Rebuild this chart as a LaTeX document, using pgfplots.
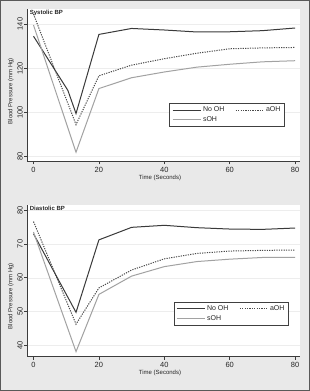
\documentclass[border=0pt]{standalone}
\usepackage{pgfplots}
\pgfplotsset{compat=1.18}
\usepackage{pgfplotstable}
\usepackage{fontspec}
\setmainfont{Liberation Sans}

\definecolor{noohcol}{HTML}{3A3A3A}
\definecolor{aohcol}{HTML}{4A4A4A}
\definecolor{sohcol}{HTML}{A2A2A2}
\definecolor{regioncol}{HTML}{E9E9E9}
\definecolor{axiscol}{HTML}{3C3C3C}

% Systolic blood pressure (mm Hg) over time (s)
\pgfplotstableread{
t  v
0    134.5
10.5 110
13   99.5
20   135.3
30   138
40   137.3
50   136.4
60   136.5
70   137
80   138.2
}\sysnooh
\pgfplotstableread{
t  v
0  144.5
13 94.5
20 116.6
30 121.4
40 124.3
50 126.8
60 128.8
70 129.2
80 129.4
}\sysaoh
\pgfplotstableread{
t  v
0  139.5
13 82
20 110.8
30 115.7
40 118.3
50 120.5
60 121.8
70 122.9
80 123.4
}\syssoh

% Diastolic blood pressure (mm Hg) over time (s)
\pgfplotstableread{
t  v
0  73
13 49.8
20 71.2
30 74.9
40 75.5
50 74.8
60 74.4
70 74.3
80 74.7
}\dianooh
\pgfplotstableread{
t  v
0  76.6
13 46.3
20 57
30 62.3
40 65.6
50 67.2
60 67.9
70 68.1
80 68.2
}\diaaoh
\pgfplotstableread{
t  v
0  73.5
13 38.2
20 55.1
30 60.5
40 63.3
50 64.8
60 65.5
70 66
80 66
}\diasoh

\newcommand{\labfont}{\fontsize{6bp}{7bp}\selectfont}

\pgfplotsset{
  bpstyle/.style={
    scale only axis,
    width=273bp,
    xmin=-1.99, xmax=81.5,
    xtick={0,20,40,60,80},
    axis x line*=bottom,
    axis y line*=left,
    axis line style={-, draw=axiscol, line width=0.8bp},
    tick style={draw=axiscol, line width=0.8bp},
    tick align=outside,
    major tick length=3bp,
    axis background/.style={fill=white},
    ymajorgrids,
    grid style={draw=black!7, line width=0.6bp},
    /pgf/number format/assume math mode=true,
    tick label style={font=\fontsize{7.5bp}{8bp}\selectfont, text=black!85},
    xticklabel style={inner sep=1bp, yshift=-1.5bp},
    yticklabel style={rotate=90, anchor=south, inner sep=1bp},
    xlabel={Time (Seconds)},
    ylabel={Blood Pressure (mm Hg)},
    every axis x label/.style={at={(axis description cs:0.487,0)}, yshift=-16.5bp,
      anchor=center, font=\labfont, text=black!85},
    legend columns=2,
    legend cell align=left,
    legend image code/.code={\draw[##1] (0bp,0bp) -- (28bp,0bp);},
    legend style={
      draw=black!75, line width=0.6bp, fill=white,
      font=\fontsize{7bp}{8bp}\selectfont,
      inner xsep=2.5bp, inner ysep=2bp,
      row sep=-0.5bp,
      nodes={inner sep=1.8bp, text=black!85},
      /tikz/every even column/.append style={column sep=9bp},
    },
    nooh/.style={draw=noohcol, line width=1bp},
    aoh/.style={draw=aohcol, line width=1bp, dash pattern=on 1.2bp off 1.2bp},
    soh/.style={draw=sohcol, line width=1bp},
  },
}

\begin{document}
\begin{tikzpicture}[x=1bp, y=1bp]
  \useasboundingbox (0,0) rectangle (310,391);
  \fill[regioncol] (0,0) rectangle (310,391);

  % upper panel: systolic
  \begin{axis}[bpstyle,
      at={(27bp,229.5bp)}, anchor=south west,
      height=152.5bp,
      ymin=77.8, ymax=146.8,
      ytick={80,100,120,140},
      every axis y label/.style={at={(axis description cs:-0.059,0.462)}, rotate=90,
        anchor=center, font=\labfont, text=black!85},
      legend style={at={(axis description cs:0.945,0.384)}, anchor=north east},
    ]
    \addplot[nooh] table[x=t, y=v] {\sysnooh};
    \addlegendentry{No OH}
    \addplot[aoh] table[x=t, y=v] {\sysaoh};
    \addlegendentry{aOH}
    \addplot[soh] table[x=t, y=v] {\syssoh};
    \addlegendentry{sOH}
    \node[anchor=north west, inner sep=0.5bp, font=\fontsize{6bp}{7bp}\selectfont\bfseries, text=black!85]
      at (rel axis cs:0.008,0.997) {Systolic BP};
  \end{axis}

  % lower panel: diastolic
  \begin{axis}[bpstyle,
      at={(27bp,34.3bp)}, anchor=south west,
      height=151.7bp,
      ymin=36.7, ymax=81.5,
      ytick={40,50,60,70,80},
      every axis y label/.style={at={(axis description cs:-0.059,0.40)}, rotate=90,
        anchor=center, font=\labfont, text=black!85},
      legend style={at={(axis description cs:0.96,0.3626)}, anchor=north east},
    ]
    \addplot[nooh] table[x=t, y=v] {\dianooh};
    \addlegendentry{No OH}
    \addplot[aoh] table[x=t, y=v] {\diaaoh};
    \addlegendentry{aOH}
    \addplot[soh] table[x=t, y=v] {\diasoh};
    \addlegendentry{sOH}
    \node[anchor=north west, inner sep=0.5bp, font=\fontsize{6bp}{7bp}\selectfont\bfseries, text=black!85]
      at (rel axis cs:0.008,0.997) {Diastolic BP};
  \end{axis}

  \draw[black!65, line width=1.5bp] (0.75,0.75) rectangle (309.25,390.25);
\end{tikzpicture}
\end{document}
